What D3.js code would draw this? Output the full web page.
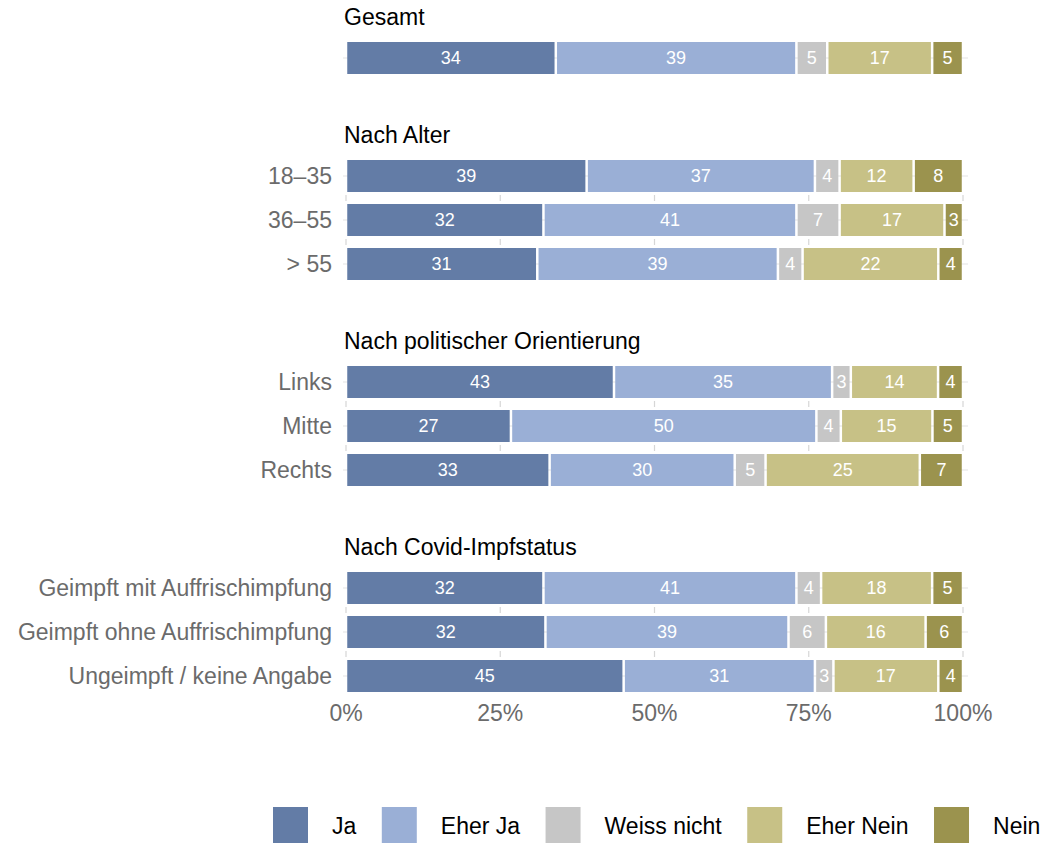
<!DOCTYPE html>
<html>
<head>
<meta charset="utf-8">
<script src="https://cdn.jsdelivr.net/npm/d3@7"></script>
<style>
  body { margin: 0; background: #fff; }
  svg text { font-family: "Liberation Sans", Arial, sans-serif; }
</style>
</head>
<body>
<div id="chart"></div>
<script>
var W = 1047, H = 843;

// answer categories
var answers = ["Ja", "Eher Ja", "Weiss nicht", "Eher Nein", "Nein"];
var colors = ["#637ca6", "#9aafd6", "#c6c6c6", "#c7c186", "#9b934e"];

// facets and their rows
var facets = ["Gesamt", "Nach Alter", "Nach politischer Orientierung", "Nach Covid-Impfstatus"];
var facetRows = [
    [""],
    ["18–35", "36–55", "> 55"],
    ["Links", "Mitte", "Rechts"],
    ["Geimpft mit Auffrischimpfung", "Geimpft ohne Auffrischimpfung", "Ungeimpft / keine Angabe"]
];

// percent per row (Ja, Eher Ja, Weiss nicht, Eher Nein, Nein)
var gesamtVals = [[34, 39, 5, 17, 5]];
var alterVals = [[39, 37, 4, 12, 8], [32, 41, 7, 17, 3], [31, 39, 4, 22, 4]];
var politikVals = [[43, 35, 3, 14, 4], [27, 50, 4, 15, 5], [33, 30, 5, 25, 7]];
var impfVals = [[32, 41, 4, 18, 5], [32, 39, 6, 16, 6], [45, 31, 3, 17, 4]];
var facetVals = [gesamtVals, alterVals, politikVals, impfVals];

var ticks = [0, 0.25, 0.5, 0.75, 1];

var svg = d3.select("#chart")
    .append("svg")
    .attr("width", W)
    .attr("height", H);

var x = d3.scaleLinear().domain([0, 1]).range([346, 963]);
var color = d3.scaleOrdinal().domain(answers).range(colors);

var step = 44, gap = 12, facetGap = 86;
var panelTop = 42;
var lastY;

facets.forEach(function(name, fi) {
    var rows = facetRows[fi];
    var y = d3.scaleBand()
        .domain(rows)
        .range([panelTop - gap / 2, panelTop - gap / 2 + rows.length * step])
        .paddingInner(gap / step)
        .paddingOuter(gap / step / 2);

    var g = svg.append("g");

    // facet title
    g.append("text")
        .attr("x", 344)
        .attr("y", panelTop - 17)
        .style("font-size", "23px")
        .style("fill", "#000")
        .text(name);

    // horizontal grid lines (peek out at both panel ends)
    g.selectAll(".hgrid")
        .data(rows)
        .enter()
        .append("line")
        .attr("x1", x(0) - 3)
        .attr("x2", x(1) + 5)
        .attr("y1", function(d) { return y(d) + y.bandwidth() / 2; })
        .attr("y2", function(d) { return y(d) + y.bandwidth() / 2; })
        .style("stroke", "#e3e3e3")
        .style("stroke-width", 1);

    // vertical grid lines, visible in gaps between bars
    rows.slice(1).forEach(function(r) {
        var mid = y(r) - gap / 2;
        g.selectAll(null)
            .data(ticks)
            .enter()
            .append("line")
            .attr("x1", function(d) { return x(d); })
            .attr("x2", function(d) { return x(d); })
            .attr("y1", mid - 3)
            .attr("y2", mid + 3)
            .style("stroke", "#d6d6d6")
            .style("stroke-width", 1.2);
    });

    // row labels
    g.selectAll(".ylab")
        .data(rows)
        .enter()
        .append("text")
        .attr("x", 332)
        .attr("y", function(d) { return y(d) + y.bandwidth() / 2; })
        .attr("dy", "0.36em")
        .attr("text-anchor", "end")
        .style("font-size", "23px")
        .style("fill", "#6b6b6b")
        .text(function(d) { return d; });

    // stacked segments, normalised to 100%
    rows.forEach(function(r, ri) {
        var vals = facetVals[fi][ri];
        var total = d3.sum(vals);
        var cum = 0;
        var segs = vals.map(function(v, k) {
            var s = { key: answers[k], v: v, x0: cum / total, x1: (cum + v) / total };
            cum += v;
            return s;
        });

        var seg = g.selectAll(null)
            .data(segs)
            .enter()
            .append("g");

        seg.append("rect")
            .attr("x", function(d) { return x(d.x0) + 1.25; })
            .attr("width", function(d) { return Math.max(0, x(d.x1) - x(d.x0) - 2.5); })
            .attr("y", y(r))
            .attr("height", y.bandwidth())
            .style("fill", function(d) { return color(d.key); });

        seg.append("text")
            .attr("x", function(d) { return (x(d.x0) + x(d.x1)) / 2; })
            .attr("y", y(r) + y.bandwidth() / 2)
            .attr("dy", "0.36em")
            .attr("text-anchor", "middle")
            .style("font-size", "18px")
            .style("fill", "#fff")
            .text(function(d) { return d.v; });
    });

    lastY = panelTop + rows.length * step - gap;
    panelTop = lastY + facetGap;
});

// x axis labels
svg.selectAll(".xlab")
    .data(ticks)
    .enter()
    .append("text")
    .attr("x", function(d) { return x(d); })
    .attr("y", lastY + 29)
    .attr("text-anchor", "middle")
    .style("font-size", "23px")
    .style("fill", "#6b6b6b")
    .text(d3.format(".0%"));

// legend, laid out left to right from the label widths
var lx = 273;
answers.forEach(function(a) {
    var lg = svg.append("g").attr("transform", "translate(" + lx + ",807)");
    lg.append("rect")
        .attr("width", 35)
        .attr("height", 36)
        .style("fill", color(a));
    var t = lg.append("text")
        .attr("x", 59)
        .attr("y", 19)
        .attr("dy", "0.36em")
        .style("font-size", "23px")
        .style("fill", "#000")
        .text(a);
    lx += 59 + t.node().getComputedTextLength() + 25.5;
});
</script>
</body>
</html>
